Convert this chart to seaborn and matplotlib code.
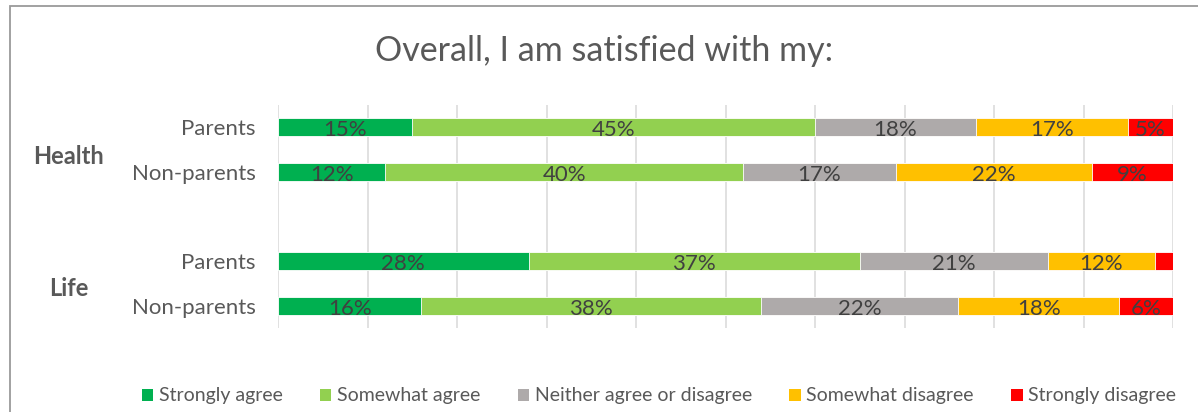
import matplotlib
matplotlib.use("Agg")
import matplotlib.pyplot as plt
from matplotlib.patches import Rectangle, Patch
import numpy as np
import pandas as pd
import seaborn as sns

# Survey responses (percent) for each group / respondent type
groups = ["Health", "Health", "Life", "Life"]
respondents = ["Parents", "Non-parents", "Parents", "Non-parents"]
strongly_agree = [15, 12, 28, 16]
somewhat_agree = [45, 40, 37, 38]
neither = [18, 17, 21, 22]
somewhat_disagree = [17, 22, 12, 18]
strongly_disagree = [5, 9, 2, 6]

categories = ["Strongly agree", "Somewhat agree", "Neither agree or disagree",
              "Somewhat disagree", "Strongly disagree"]
colors = ["#00B050", "#92D050", "#AEAAAA", "#FFC000", "#FF0000"]
title = "Overall, I am satisfied with my:"

# row positions: two rows per group with a gap between groups
ypos = [0, 1, 3, 4]

sns.set_theme(style="white")
plt.rcParams["font.family"] = ["Lato", "DejaVu Sans"]

W, H = 1198, 412
fig = plt.figure(figsize=(W / 100, H / 100), dpi=100)
fig.patch.set_facecolor("white")

ax = fig.add_axes([278 / W, 1 - 328 / H, 895 / W, 223 / H])

series = [strongly_agree, somewhat_agree, neither, somewhat_disagree, strongly_disagree]
values = np.array(series, dtype=float)          # shape (5, 4)
cum = np.cumsum(values, axis=0)

df = pd.DataFrame({"y": ypos})
for name, c in zip(categories, cum):
    df[name] = c

# stacked bars: draw cumulative totals from the right-most segment backwards
for i in range(len(categories) - 1, -1, -1):
    sns.barplot(data=df, x=categories[i], y="y", orient="h", native_scale=True,
                color=colors[i], width=0.40, saturation=1, ax=ax,
                edgecolor="white", linewidth=0.6, zorder=2)

# value labels in segment centres
for i in range(len(categories)):
    for j, y in enumerate(ypos):
        v = values[i, j]
        if v < 3:
            continue
        ax.text(cum[i, j] - v / 2, y + 0.07, f"{int(v)}%", ha="center", va="center",
                fontsize=16, color="#404040", zorder=3)

ax.set_xlim(0, 100)
ax.set_ylim(4.49, -0.49)
ax.set_xticks(np.arange(0, 101, 10))
ax.set_xticklabels([])
ax.grid(axis="x", color="#D9D9D9", linewidth=1.1, zorder=0)
ax.grid(axis="y", visible=False)
ax.set_axisbelow(True)
for s in ax.spines.values():
    s.set_visible(False)
ax.set_yticks(ypos)
ax.set_yticklabels(respondents, fontsize=16, color="#595959")
ax.tick_params(axis="y", length=0, pad=16)
ax.tick_params(axis="x", length=0)
ax.set_xlabel("")
ax.set_ylabel("")

# group labels
for name, yc in [("Health", 156), ("Life", 288)]:
    fig.text(68.5 / W, 1 - yc / H, name, ha="center", va="center",
             fontsize=17, fontweight="bold", color="#595959")

fig.text(604 / W, 1 - 51 / H, title, ha="center", va="center",
         fontsize=24.5, color="#595959")

handles = [Patch(facecolor=c, edgecolor="none", label=l) for c, l in zip(colors, categories)]
leg = fig.legend(handles=handles, loc="center", bbox_to_anchor=(659 / W, 1 - 396 / H),
                 ncol=5, frameon=False, fontsize=14, handlelength=0.57, handleheight=0.57,
                 handletextpad=0.3, columnspacing=1.93)
for t in leg.get_texts():
    t.set_color("#595959")

# chart frame
fig.patches.append(Rectangle((10 / W, -0.1), 1.2, 1 - 6 / H + 0.1, transform=fig.transFigure,
                             fill=False, edgecolor="#9A9A9A", linewidth=1.3, zorder=0))

fig.savefig("out.png", dpi=100)
